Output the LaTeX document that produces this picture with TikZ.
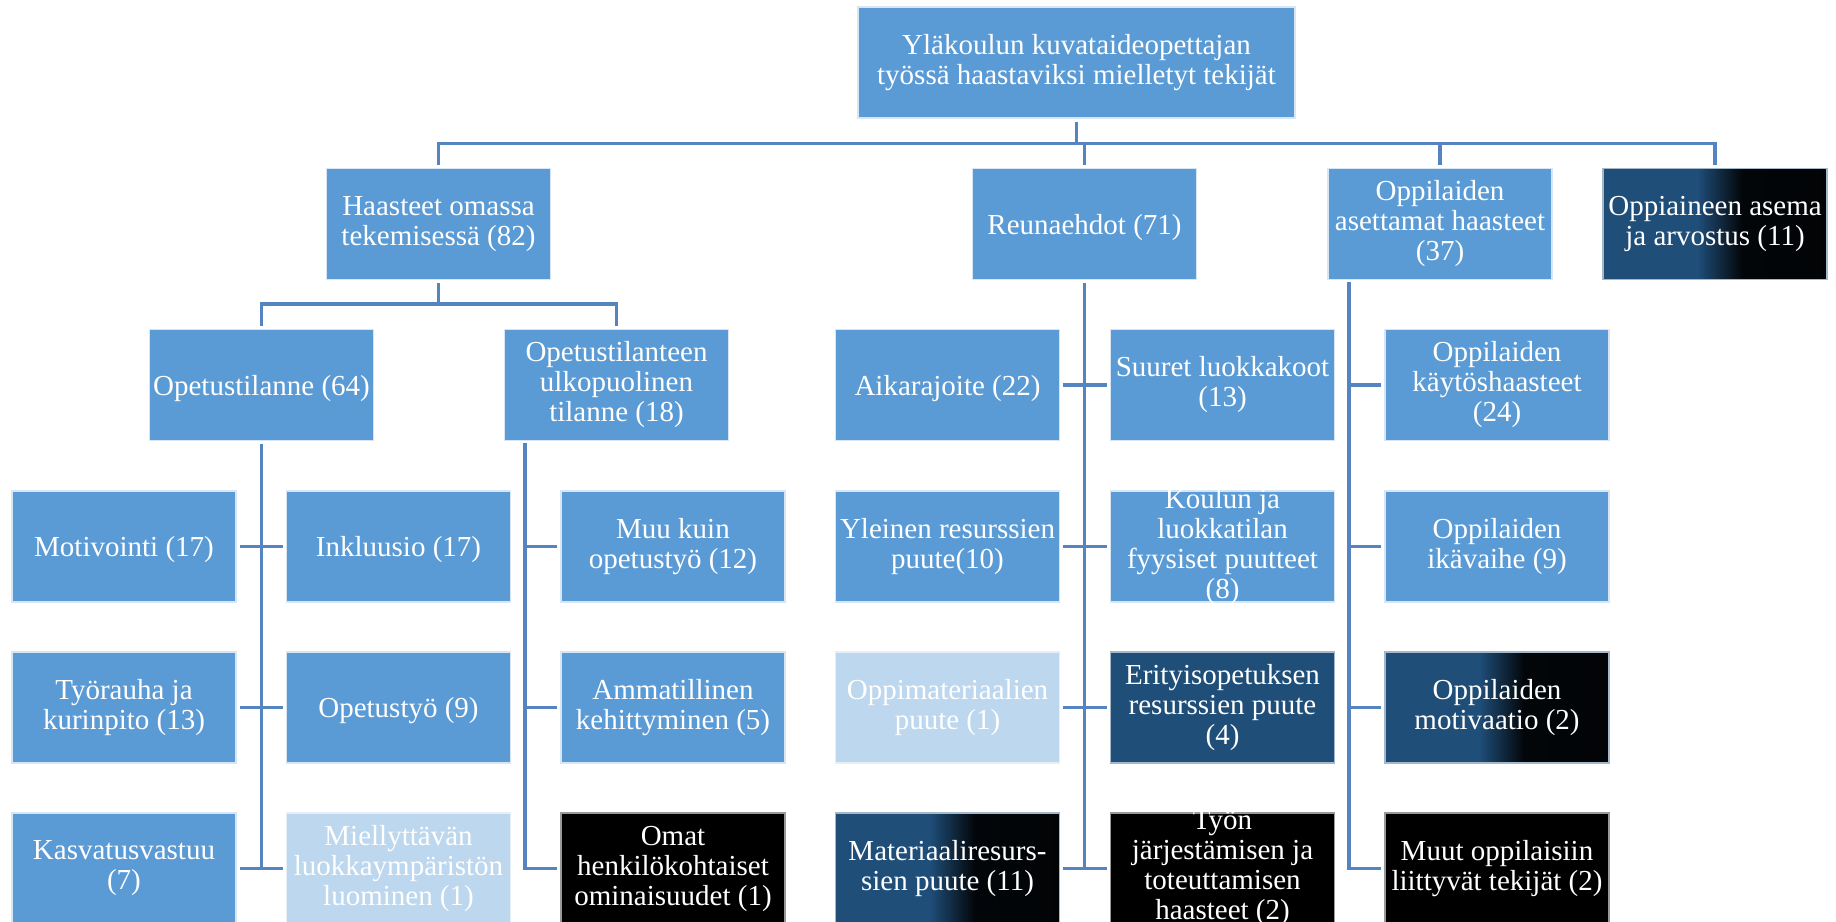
\documentclass[tikz,border=0pt]{standalone}
\usepackage{fontspec}
\setmainfont{Liberation Serif}
\usepackage{xcolor}
\definecolor{boxblue}{HTML}{5B9BD5}
\definecolor{boxlight}{HTML}{BDD7EE}
\definecolor{boxdark}{HTML}{1F4E79}
\definecolor{linkblue}{HTML}{5585C0}
\pgfdeclarehorizontalshading{darkfade}{100bp}{color(0bp)=(boxdark); color(46bp)=(boxdark); color(56bp)=(black!92!boxdark); color(100bp)=(black)}

\begin{document}
\begin{tikzpicture}[x=0.5pt,y=-0.5pt,
  box/.style={rectangle, fill=boxblue, draw=white!75!boxblue, line width=0.6pt, minimum width=112pt, minimum height=55.5pt, inner sep=0pt, align=center, text=white, font=\fontsize{14.5}{15}\selectfont, execute at begin node={\rule{0pt}{13.2pt}}},
  lightbox/.style={box, fill=boxlight, draw=white!60!boxlight},
  darkbox/.style={box, fill=boxdark, draw=white!60!boxdark},
  blackbox/.style={box, fill=black, draw=white!60!black},
  fadebox/.style={box, draw=white!60!boxdark, shade, shading=darkfade},
  lbl/.style={inner sep=0pt, align=center, text=white, font=\fontsize{14.5}{15}\selectfont, execute at begin node={\rule{0pt}{13.2pt}}},
  conn/.style={draw=linkblue, line width=1.75pt}]
\clip (0,0) rectangle (1836,921);

\node[box, minimum width=218.5pt] (root) at (1076.5,62.5) {Yläkoulun kuvataideopettajan\\työssä haastaviksi mielletyt tekijät};

\node[box] (haaste) at (438.5,224) {Haasteet omassa\\tekemisessä (82)};
\node[box] (reuna) at (1084.5,224) {Reunaehdot (71)};
\node[box] (oppas) at (1440,224) {Oppilaiden\\asettamat haasteet\\(37)};
\node[fadebox] (oppiaine) at (1715,224) {Oppiaineen asema\\ja arvostus (11)};

\node[box] (opetus) at (261.5,385) {Opetustilanne (64)};
\node[box] (ulko) at (616.5,385) {Opetustilanteen\\ulkopuolinen\\tilanne (18)};
\node[box] (aika) at (947.5,385) {Aikarajoite (22)};
\node[box] (suuret) at (1222.5,385) {Suuret luokkakoot\\(13)};
\node[box] (kaytos) at (1497,385) {Oppilaiden\\käytöshaasteet\\(24)};

\node[box] (motiv) at (124,546.5) {Motivointi (17)};
\node[box] (inkl) at (398.5,546.5) {Inkluusio (17)};
\node[box] (muu) at (673,546.5) {Muu kuin\\opetustyö (12)};
\node[box] (yleinen) at (947.5,546.5) {Yleinen resurssien\\puute(10)};
\node[box] (koulu) at (1222.5,546.5) {};
\node[lbl] at (koulu) {Koulun ja\\luokkatilan\\fyysiset puutteet\\(8)};
\node[box] (ika) at (1497,546.5) {Oppilaiden\\ikävaihe (9)};

\node[box] (tyorauha) at (124,707.5) {Työrauha ja\\kurinpito (13)};
\node[box] (opetustyo) at (398.5,707.5) {Opetustyö (9)};
\node[box] (ammat) at (673,707.5) {Ammatillinen\\kehittyminen (5)};
\node[lightbox] (oppimat) at (947.5,707.5) {Oppimateriaalien\\puute (1)};
\node[darkbox] (erity) at (1222.5,707.5) {Erityisopetuksen\\resurssien puute\\(4)};
\node[fadebox] (motivaatio) at (1497,707.5) {Oppilaiden\\motivaatio (2)};

\node[box] (kasvatus) at (124,868.5) {Kasvatusvastuu\\(7)};
\node[lightbox] (miell) at (398.5,868.5) {Miellyttävän\\luokkaympäristön\\luominen (1)};
\node[blackbox] (omat) at (673,868.5) {Omat\\henkilökohtaiset\\ominaisuudet (1)};
\node[fadebox] (matres) at (947.5,868.5) {Materiaaliresurs-\\sien puute (11)};
\node[blackbox] (tyon) at (1222.5,868.5) {};
\node[lbl] at (tyon) {Työn\\järjestämisen ja\\toteuttamisen\\haasteet (2)};
\node[blackbox] (muut) at (1497,868.5) {Muut oppilaisiin\\liittyvät tekijät (2)};

\coordinate (bus) at (1076.5,143.5);
\draw[conn, shorten <=1.5pt] (root.south) -- (bus);
\draw[conn, shorten <=1.5pt, shorten >=1.5pt] (haaste.north) |- (bus -| oppiaine.north) -- (oppiaine.north);
\draw[conn, shorten >=1.5pt] (bus -| reuna.north) -- (reuna.north);
\draw[conn, shorten >=1.5pt] (bus -| oppas.north) -- (oppas.north);

\coordinate (bus2) at (438.5,304);
\draw[conn, shorten <=1.5pt] (haaste.south) -- (bus2);
\draw[conn, shorten <=1.5pt, shorten >=1.5pt] (opetus.north) |- (bus2 -| ulko.north) -- (ulko.north);

\draw[conn, shorten <=1.5pt] (opetus.south) -- (opetus.south |- kasvatus.east);
\draw[conn, shorten <=1.5pt, shorten >=1.5pt] (motiv.east) -- (inkl.west);
\draw[conn, shorten <=1.5pt, shorten >=1.5pt] (tyorauha.east) -- (opetustyo.west);
\draw[conn, shorten <=1.5pt, shorten >=1.5pt] (kasvatus.east) -- (miell.west);

\coordinate (ulkot) at (525,440);
\draw[conn, shorten <=1.5pt, shorten >=1.5pt] (ulkot) |- (omat.west);
\draw[conn, shorten >=1.5pt] (ulkot |- muu.west) -- (muu.west);
\draw[conn, shorten >=1.5pt] (ulkot |- ammat.west) -- (ammat.west);

\draw[conn, shorten <=1.5pt] (reuna.south) -- (reuna.south |- tyon.west);
\draw[conn, shorten <=1.5pt, shorten >=1.5pt] (aika.east) -- (suuret.west);
\draw[conn, shorten <=1.5pt, shorten >=1.5pt] (yleinen.east) -- (koulu.west);
\draw[conn, shorten <=1.5pt, shorten >=1.5pt] (oppimat.east) -- (erity.west);
\draw[conn, shorten <=1.5pt, shorten >=1.5pt] (matres.east) -- (tyon.west);

\coordinate (oppast) at (1349,279);
\draw[conn, shorten <=1.5pt, shorten >=1.5pt] (oppast) |- (muut.west);
\draw[conn, shorten >=1.5pt] (oppast |- kaytos.west) -- (kaytos.west);
\draw[conn, shorten >=1.5pt] (oppast |- ika.west) -- (ika.west);
\draw[conn, shorten >=1.5pt] (oppast |- motivaatio.west) -- (motivaatio.west);
\end{tikzpicture}
\end{document}
